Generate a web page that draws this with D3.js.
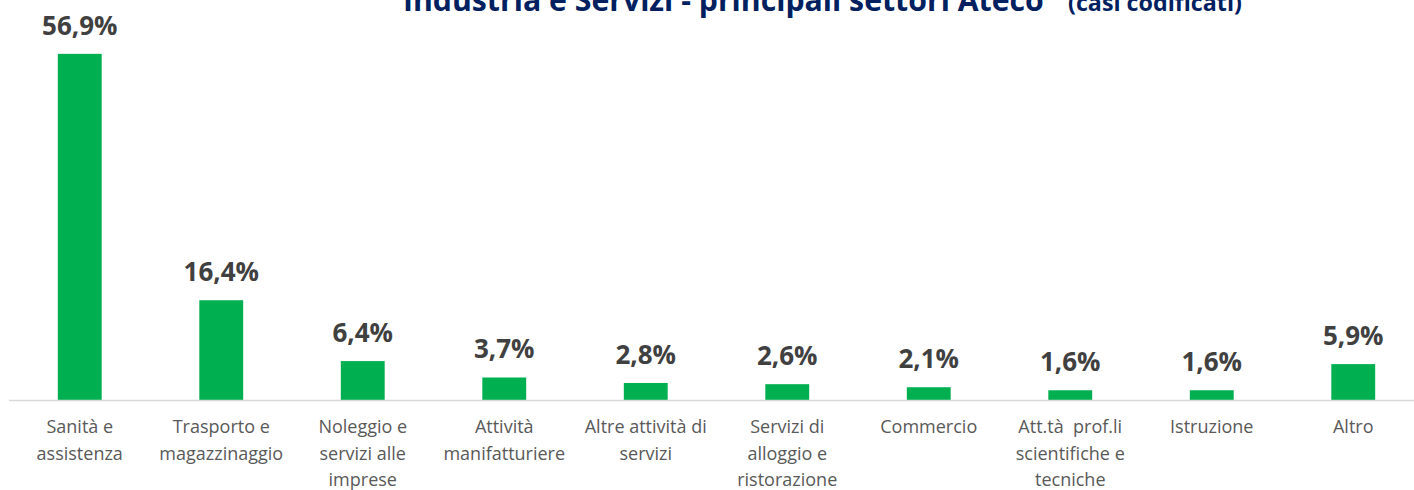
<!DOCTYPE html>
<html>
<head>
<meta charset="utf-8">
<script src="https://cdn.jsdelivr.net/npm/d3@7"></script>
<style>
  body { margin: 0; background: #fff; }
  .value { font-family: "Open Sans", sans-serif; font-weight: bold; font-size: 26px; fill: #404040; }
  .cat { font-family: "Open Sans", sans-serif; font-size: 18px; fill: #595959; }
  .title { font-family: "Open Sans", sans-serif; font-weight: bold; fill: #002060; }
</style>
</head>
<body>
<svg class="chart" width="1414" height="490"></svg>
<script>
// Data
let categories = ["Sanità e assistenza", "Trasporto e magazzinaggio", "Noleggio e servizi alle imprese",
  "Attività manifatturiere", "Altre attività di servizi", "Servizi di alloggio e ristorazione",
  "Commercio", "Att.tà prof.li scientifiche e tecniche", "Istruzione", "Altro"];
// label lines as they wrap in the original
let labelLines = [
  ["Sanità e", "assistenza"],
  ["Trasporto e", "magazzinaggio"],
  ["Noleggio e", "servizi alle", "imprese"],
  ["Attività", "manifatturiere"],
  ["Altre attività di", "servizi"],
  ["Servizi di", "alloggio e", "ristorazione"],
  ["Commercio"],
  ["Att.tà  prof.li", "scientifiche e", "tecniche"],
  ["Istruzione"],
  ["Altro"]
];
let values = [56.9, 16.4, 6.4, 3.7, 2.8, 2.6, 2.1, 1.6, 1.6, 5.9];

let title = "Industria e Servizi - principali settori Ateco";
let subtitle = "(casi codificati)";

var svg = d3.select(".chart");
var width = +svg.attr("width");

let baseY = 400;

var xScale = d3.scaleBand()
  .domain(categories)
  .range([9, 1424])
  .paddingInner(0.69)
  .paddingOuter(0.345);

var yScale = d3.scaleLinear()
  .domain([0, 60])
  .range([baseY, 35]);

let fmt = v => v.toFixed(1).replace(".", ",") + "%";

// title (cut at the top like the original); font size fitted to the
// widths measured on the reference
function fitText(str, x, targetWidth) {
  let el = svg.append("text")
    .attr("class", "title")
    .attr("x", x)
    .attr("y", 11)
    .attr("font-size", 30)
    .text(str);
  let w = el.node().getComputedTextLength();
  el.attr("font-size", 30 * targetWidth / w);
  return el;
}
fitText(title, 403, 641);
fitText(subtitle, 1068, 174);

// bars
svg.selectAll("rect.bar")
  .data(values)
  .enter()
  .append("rect")
  .attr("class", "bar")
  .attr("x", (d, i) => xScale(categories[i]))
  .attr("y", d => yScale(d))
  .attr("width", xScale.bandwidth())
  .attr("height", d => baseY - yScale(d))
  .attr("fill", "#00b050");

// baseline
svg.append("line")
  .attr("x1", 9)
  .attr("x2", width)
  .attr("y1", baseY + 0.5)
  .attr("y2", baseY + 0.5)
  .attr("stroke", "#d9d9d9")
  .attr("stroke-width", 1.5);

// value labels
svg.selectAll("text.value")
  .data(values)
  .enter()
  .append("text")
  .attr("class", "value")
  .attr("text-anchor", "middle")
  .attr("x", (d, i) => xScale(categories[i]) + xScale.bandwidth() / 2)
  .attr("y", d => yScale(d) - 19)
  .text(fmt);

// category labels
for (let i = 0; i < categories.length; i++) {
  let cx = xScale(categories[i]) + xScale.bandwidth() / 2;
  let txt = svg.append("text")
    .attr("class", "cat")
    .attr("text-anchor", "middle")
    .attr("x", cx)
    .attr("y", 433);
  labelLines[i].forEach((line, j) => {
    txt.append("tspan")
      .attr("x", cx)
      .attr("dy", j == 0 ? 0 : 26.5)
      .attr("xml:space", "preserve")
      .text(line);
  });
}
</script>
</body>
</html>
